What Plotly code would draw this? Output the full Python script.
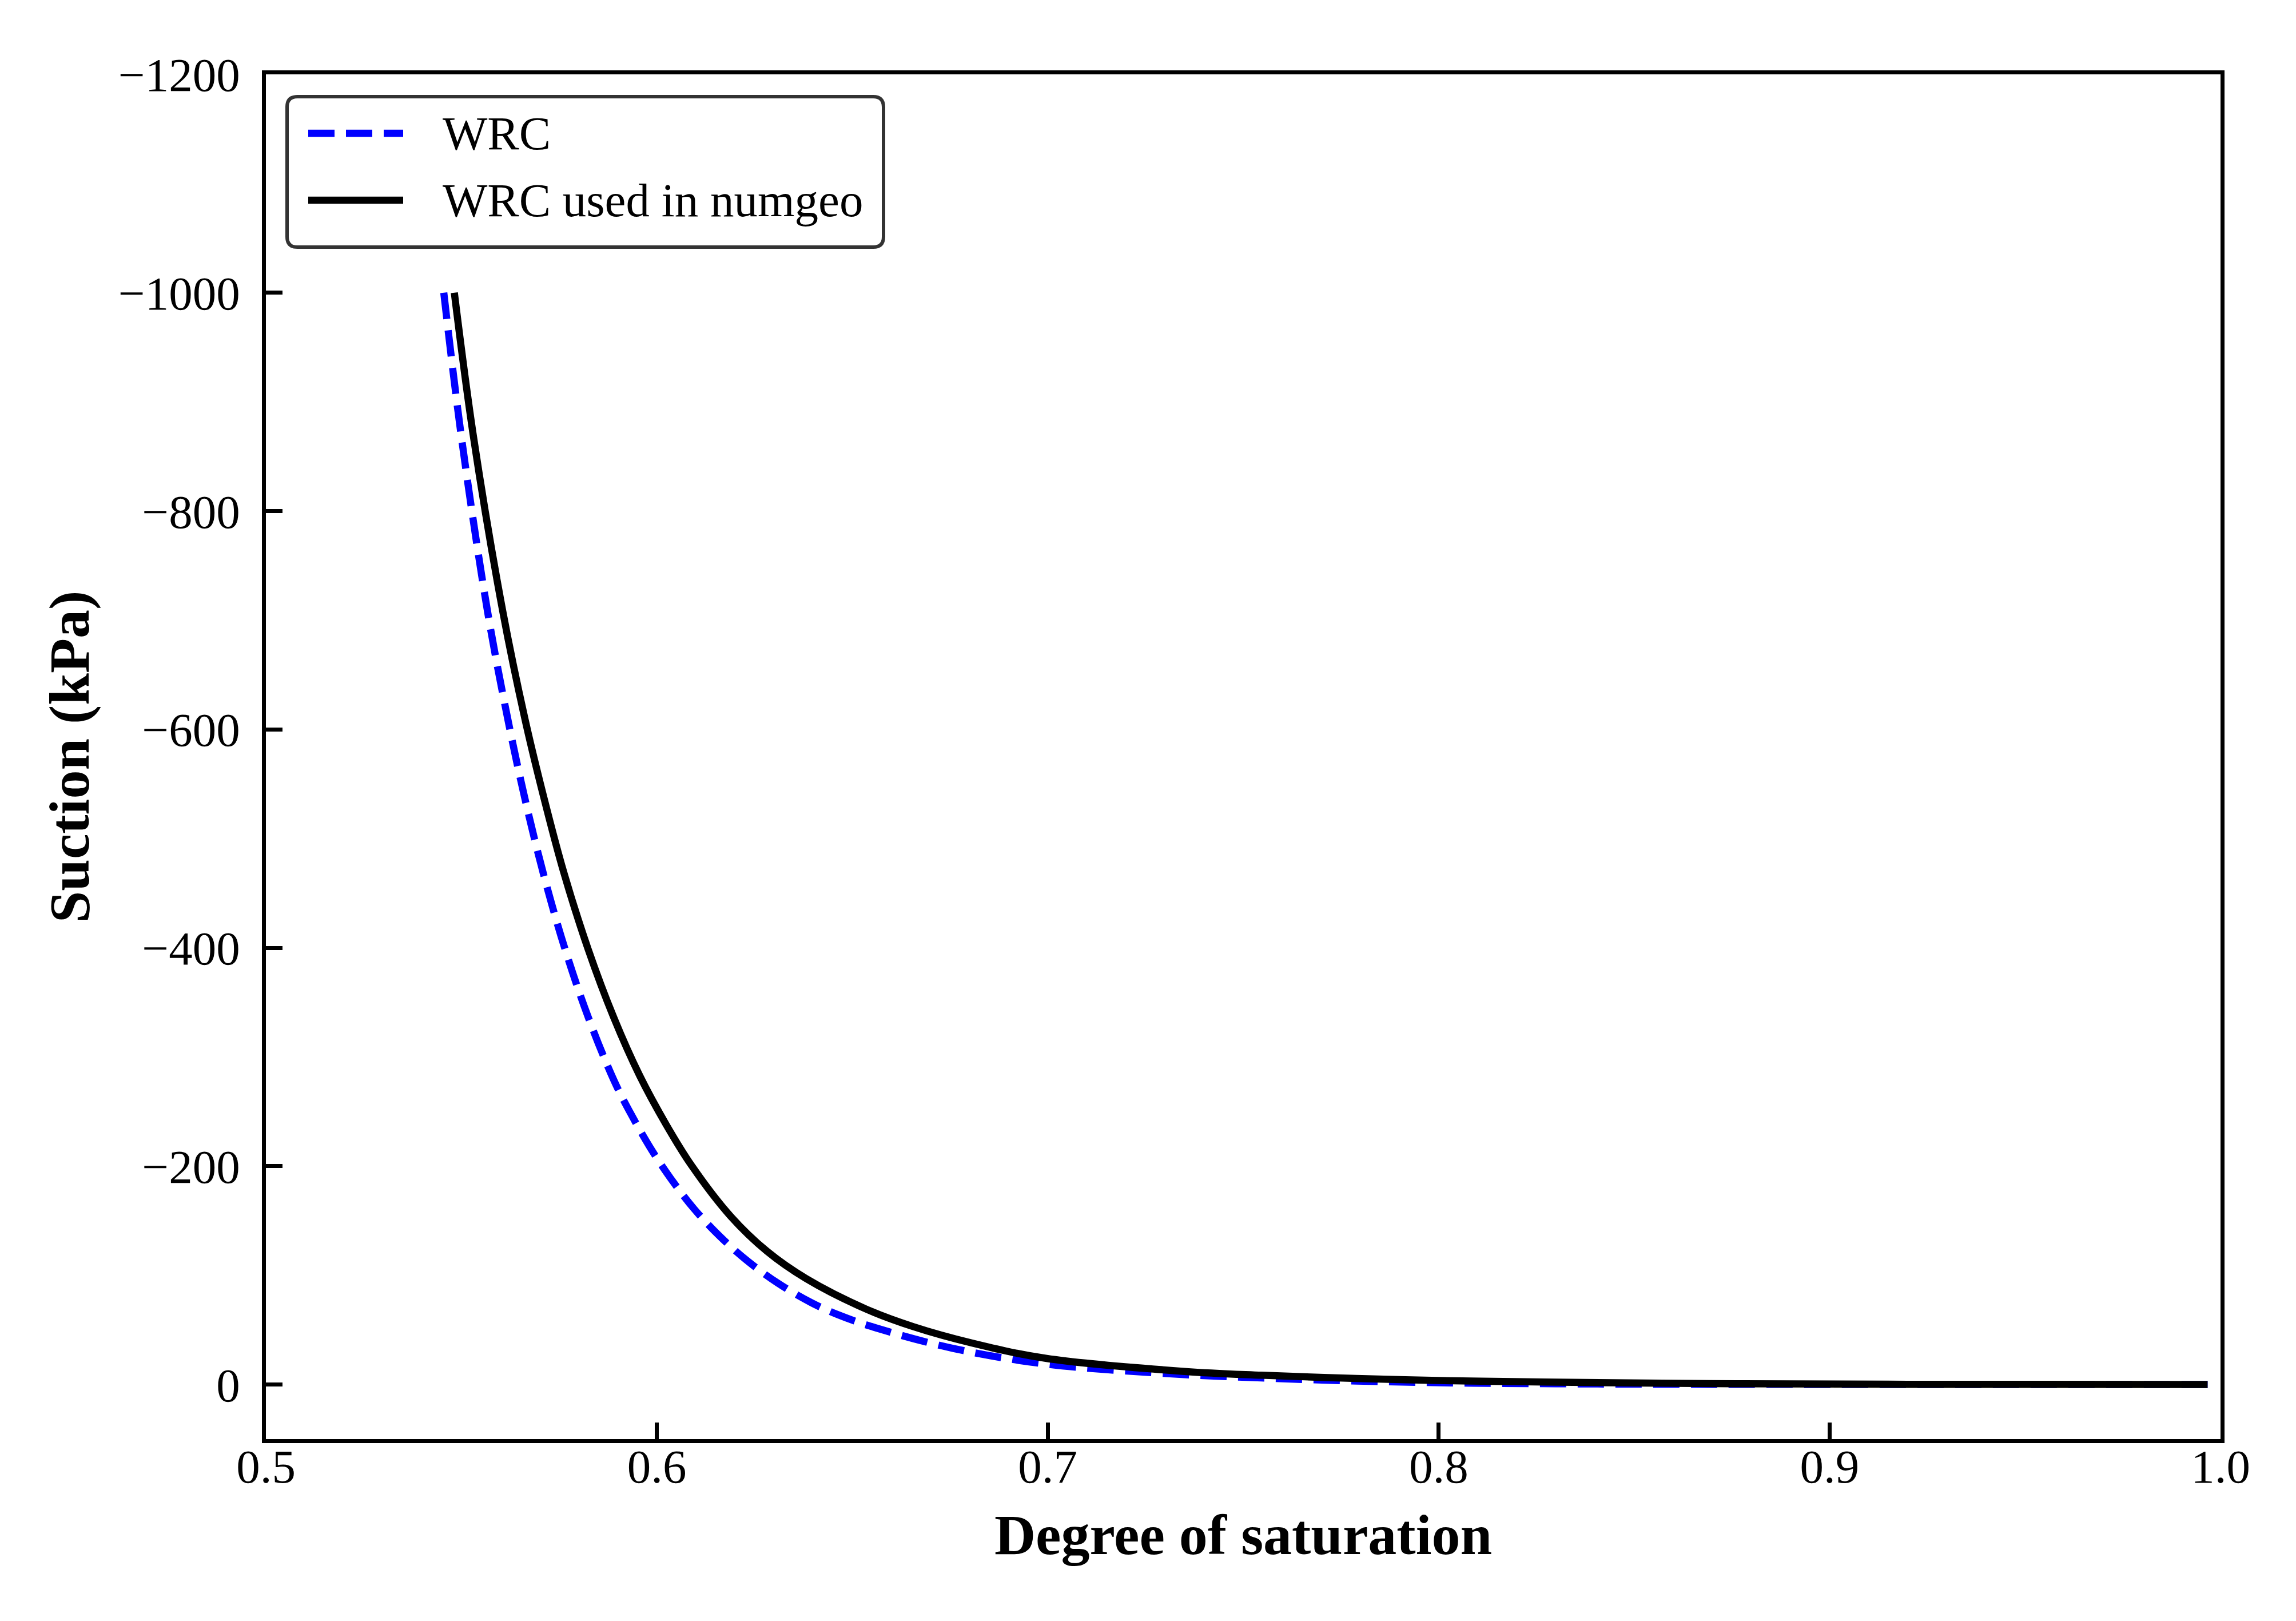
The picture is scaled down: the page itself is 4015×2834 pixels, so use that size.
import plotly.graph_objects as go

# values
wrc_sat = [0.5455, 0.5500, 0.5567, 0.5619, 0.5661, 0.5709, 0.5765, 0.5825, 0.5891,
           0.5935, 0.5983, 0.6035, 0.6095, 0.6159, 0.6229, 0.6309, 0.6395, 0.6463,
           0.6559, 0.6759, 0.6990, 0.7306, 0.7547, 0.7790, 0.8032, 0.8300, 0.8700,
           0.9300, 0.9967]
wrc_suction = [-1000, -868, -708, -609, -539, -469, -399, -336, -278,
               -247, -217, -189, -161, -136.5, -114, -93, -75, -64,
               -52, -33, -19, -10, -6, -3.2, -1.5, -0.7, -0.2,
               -0.05, 0]

numgeo_sat = [0.5482, 0.5531, 0.5606, 0.5663, 0.5710, 0.5762, 0.5824, 0.5890, 0.5956,
              0.6024, 0.6090, 0.6189, 0.6282, 0.6382, 0.6536, 0.6656, 0.6806, 0.6995,
              0.7350, 0.7547, 0.7790, 0.8032, 0.8275, 0.8700, 0.9200, 0.9967]
numgeo_suction = [-1000, -868, -708, -609, -539, -469, -399, -336, -283,
                  -238, -200, -154, -122, -97, -69, -53, -38, -24,
                  -12, -8.5, -5.5, -3.5, -2.2, -0.8, -0.2, 0]

x_ticks = [0.5, 0.6, 0.7, 0.8, 0.9, 1.0]
y_ticks = [-1200, -1000, -800, -600, -400, -200, 0]

FONT = "Liberation Serif, Times New Roman, serif"
W, H = 4015, 2834
L, R, T, B = 457, 140, 122, 326
LW = 12.5

fig = go.Figure()
fig.add_trace(go.Scatter(x=wrc_sat, y=wrc_suction, mode="lines", name="WRC",
                         line=dict(color="#0000ff", width=LW, dash="46px,20px", shape="spline", smoothing=1.0),
                         showlegend=False))
fig.add_trace(go.Scatter(x=numgeo_sat, y=numgeo_suction, mode="lines", name="WRC used in numgeo",
                         line=dict(color="black", width=LW, shape="spline", smoothing=1.0),
                         showlegend=False))

# legend drawn by hand so the handles match matplotlib's long samples
pw, ph = W - L - R, H - T - B


def px(x):
    return (x - L) / pw


def py(y):
    return (H - B - y) / ph


x0, x1, y0, y1 = px(494), px(1537), py(424), py(161)
rx, ry = 18 / pw, 18 / ph
box = (f"M{x0 + rx},{y1} L{x1 - rx},{y1} Q{x1},{y1} {x1},{y1 - ry} "
       f"L{x1},{y0 + ry} Q{x1},{y0} {x1 - rx},{y0} L{x0 + rx},{y0} "
       f"Q{x0},{y0} {x0},{y0 + ry} L{x0},{y1 - ry} Q{x0},{y1} {x0 + rx},{y1} Z")
fig.add_shape(type="path", path=box, xref="paper", yref="paper",
              line=dict(color="rgba(0,0,0,0.8)", width=6), fillcolor="rgba(255,255,255,0.8)")

rows = [("WRC", py(225), dict(color="#0000ff", width=LW, dash="46px,20px")),
        ("WRC used in numgeo", py(342), dict(color="black", width=LW))]
for label, yy, style in rows:
    fig.add_shape(type="line", xref="paper", yref="paper", x0=px(531), x1=px(697), y0=yy, y1=yy, line=style)
    fig.add_annotation(text=label, xref="paper", yref="paper", x=px(764), y=yy,
                       xanchor="left", yanchor="middle", showarrow=False,
                       font=dict(family=FONT, size=83, color="black"))

axis_common = dict(showline=True, linecolor="black", linewidth=6.5, mirror=True,
                   ticks="inside", ticklen=29, tickwidth=6.5, tickcolor="black",
                   showgrid=False, zeroline=False,
                   tickfont=dict(family=FONT, size=83, color="black"))

fig.update_xaxes(range=[0.5, 1.0], tickvals=x_ticks, tickformat=".1f", ticklabelstandoff=-30,
                 title=dict(text="<b>Degree of saturation</b>", standoff=40,
                            font=dict(family=FONT, size=100, color="black")),
                 **axis_common)
fig.update_yaxes(range=[50, -1200], tickvals=y_ticks, ticklabelstandoff=22,
                 title=dict(text="<b>Suction (kPa)</b>", standoff=20,
                            font=dict(family=FONT, size=100, color="black")),
                 **axis_common)

fig.update_layout(width=W, height=H, margin=dict(l=L, r=R, t=T, b=B, autoexpand=False),
                  paper_bgcolor="white", plot_bgcolor="white",
                  font=dict(family=FONT, color="black"))

fig.write_html("out.html")
